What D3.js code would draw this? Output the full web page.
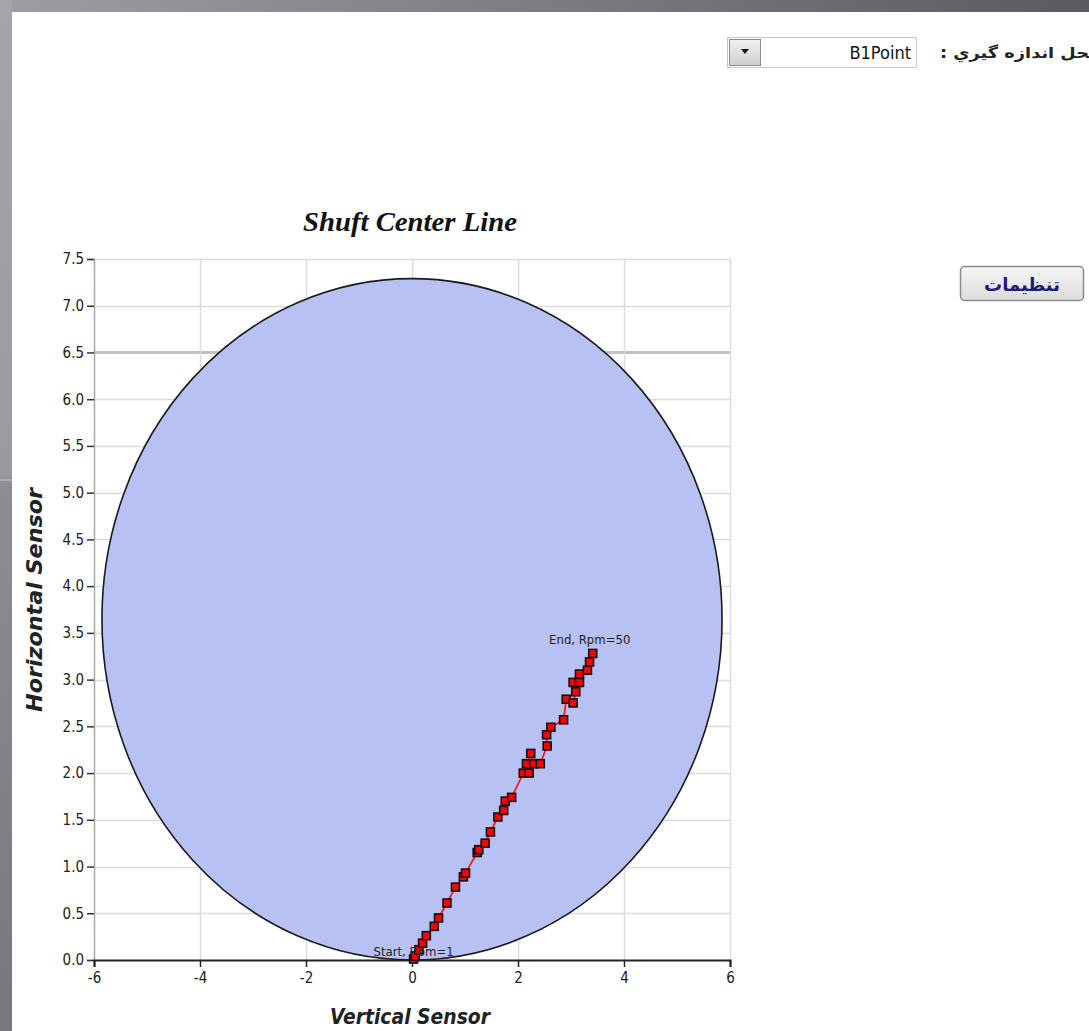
<!DOCTYPE html>
<html>
<head>
<meta charset="utf-8">
<script src="https://cdn.jsdelivr.net/npm/d3@7"></script>
<style>
  html, body { margin: 0; padding: 0; background: #fff; }
  svg { display: block; }
</style>
</head>
<body>
<svg id="page" width="1089" height="1031"></svg>
<script>
// Shaft centre line: probe readings from run-up (rpm 1) to rpm 50
const vertical = [0.03, 0.06, 0.13, 0.20, 0.27, 0.42, 0.50, 0.66, 0.82, 0.97, 1.01, 1.23, 1.26, 1.38, 1.48,
                  1.62, 1.73, 1.76, 1.88, 2.10, 2.21, 2.16, 2.24, 2.30, 2.42, 2.55, 2.54, 2.62, 2.86, 2.91,
                  3.04, 3.09, 3.04, 3.16, 3.16, 3.31, 3.35, 3.41];
const horizontal = [0.01, 0.04, 0.11, 0.18, 0.26, 0.36, 0.45, 0.61, 0.78, 0.89, 0.93, 1.15, 1.18, 1.25, 1.37,
                    1.53, 1.60, 1.70, 1.74, 2.00, 2.00, 2.10, 2.21, 2.10, 2.10, 2.29, 2.41, 2.49, 2.57, 2.79,
                    2.75, 2.87, 2.97, 2.97, 3.06, 3.10, 3.19, 3.28];
const rpmStart = 1, rpmEnd = 50;

// bearing clearance envelope (centre and half-axes, in sensor units)
const clearanceCenter = [0, 3.645];
const clearanceRadius = [5.85, 3.645];

const xTicks = [-6, -4, -2, 0, 2, 4, 6];
const yTicks = [0, 0.5, 1, 1.5, 2, 2.5, 3, 3.5, 4, 4.5, 5, 5.5, 6, 6.5, 7, 7.5];

const titleText = "Shuft Center Line";
const xLabel = "Vertical Sensor";
const yLabel = "Horizontal Sensor";
const pointLabel = "B1Point";
const pointCaption = "محل اندازه گيري :";
const settingsLabel = "تنظيمات";

const svg = d3.select("#page");
const W = 1089, H = 1031;
const narrow = "DejaVu Sans Condensed, Liberation Sans Narrow, Liberation Sans, sans-serif";

// ----- page frame -----
const defs = svg.append("defs");
const gTop = defs.append("linearGradient").attr("id", "gTop").attr("x1", 0).attr("x2", 1).attr("y1", 0).attr("y2", 0);
gTop.append("stop").attr("offset", 0).attr("stop-color", "#9d9da4");
gTop.append("stop").attr("offset", 0.5).attr("stop-color", "#7c7c82");
gTop.append("stop").attr("offset", 1).attr("stop-color", "#5a5a5f");
const gLeft = defs.append("linearGradient").attr("id", "gLeft").attr("x1", 0).attr("x2", 0).attr("y1", 0).attr("y2", 1);
gLeft.append("stop").attr("offset", 0).attr("stop-color", "#a4a4ab");
gLeft.append("stop").attr("offset", 0.46).attr("stop-color", "#9a9aa1");
gLeft.append("stop").attr("offset", 0.47).attr("stop-color", "#8d8d94");
gLeft.append("stop").attr("offset", 1).attr("stop-color", "#77777e");
const gBtn = defs.append("linearGradient").attr("id", "gBtn").attr("x1", 0).attr("x2", 0).attr("y1", 0).attr("y2", 1);
gBtn.append("stop").attr("offset", 0).attr("stop-color", "#f6f6f6");
gBtn.append("stop").attr("offset", 1).attr("stop-color", "#dcdcdc");
const gArrow = defs.append("linearGradient").attr("id", "gArrow").attr("x1", 0).attr("x2", 0).attr("y1", 0).attr("y2", 1);
gArrow.append("stop").attr("offset", 0).attr("stop-color", "#f0f0f0");
gArrow.append("stop").attr("offset", 1).attr("stop-color", "#cfcfcf");

svg.append("rect").attr("width", W).attr("height", H).attr("fill", "#fff");
svg.append("rect").attr("x", 0).attr("y", 0).attr("width", W).attr("height", 12).attr("fill", "url(#gTop)");
svg.append("rect").attr("x", 0).attr("y", 0).attr("width", 12).attr("height", H).attr("fill", "url(#gLeft)");
svg.append("line").attr("x1", 0).attr("x2", 12).attr("y1", 480).attr("y2", 480).attr("stroke", "#c4c4ca").attr("stroke-width", 1);

// ----- measuring point selector -----
const sel = svg.append("g");
sel.append("rect").attr("x", 727.5).attr("y", 37.5).attr("width", 189).attr("height", 30)
  .attr("fill", "#fff").attr("stroke", "#c8c8c8");
sel.append("rect").attr("x", 729.5).attr("y", 39.5).attr("width", 31).attr("height", 26)
  .attr("fill", "url(#gArrow)").attr("stroke", "#8c8c8c");
sel.append("path").attr("d", "M741,49 L749,49 L745,54 Z").attr("fill", "#111");
sel.append("text").attr("x", 911).attr("y", 59).attr("text-anchor", "end")
  .attr("font-family", narrow).attr("font-size", 18).attr("fill", "#111")
  .text(pointLabel);
sel.append("text").attr("x", 1100).attr("y", 58).attr("text-anchor", "start")
  .attr("direction", "rtl")
  .attr("font-family", "DejaVu Sans, sans-serif").attr("font-size", 15).attr("font-weight", "bold").attr("fill", "#222")
  .attr("textLength", 160).attr("lengthAdjust", "spacingAndGlyphs")
  .text(pointCaption);

// ----- settings button -----
const btn = svg.append("g");
btn.append("rect").attr("x", 960.5).attr("y", 266.5).attr("width", 123).attr("height", 34).attr("rx", 4)
  .attr("fill", "url(#gBtn)").attr("stroke", "#8a8a8a").attr("stroke-width", 1.5);
btn.append("text").attr("x", 1022).attr("y", 291).attr("text-anchor", "middle")
  .attr("font-family", "DejaVu Sans, sans-serif").attr("font-size", 18).attr("font-weight", "bold").attr("fill", "#1a1a7a")
  .text(settingsLabel);

// ----- chart -----
const plot = { left: 94, right: 730, top: 259, bottom: 960 };
const x = d3.scaleLinear().domain([-6, 6]).range([plot.left, plot.right]);
const y = d3.scaleLinear().domain([0, 7.5]).range([plot.bottom, plot.top]);

const chart = svg.append("g");

// grid
chart.append("g").selectAll("line").data(yTicks.filter(d => d > 0)).join("line")
  .attr("x1", plot.left).attr("x2", plot.right)
  .attr("y1", d => Math.round(y(d)) + 0.5).attr("y2", d => Math.round(y(d)) + 0.5)
  .attr("stroke", d => d === 6.5 ? "#c2c2c2" : "#dcdcdc")
  .attr("stroke-width", d => d === 6.5 ? 3 : 1.5);
chart.append("g").selectAll("line").data(xTicks.filter(d => d > -6)).join("line")
  .attr("x1", d => Math.round(x(d)) + 0.5).attr("x2", d => Math.round(x(d)) + 0.5)
  .attr("y1", plot.top).attr("y2", plot.bottom)
  .attr("stroke", "#dcdcdc").attr("stroke-width", 1.5);

// clearance envelope
chart.append("ellipse")
  .attr("cx", x(clearanceCenter[0])).attr("cy", y(clearanceCenter[1]))
  .attr("rx", x(clearanceRadius[0]) - x(0)).attr("ry", y(0) - y(clearanceRadius[1]))
  .attr("fill", "#b8c1f4").attr("stroke", "#1a1a1a").attr("stroke-width", 1.6);

// axes
const yAxis = d3.axisLeft(y).tickValues(yTicks).tickFormat(d => d.toFixed(1)).tickSize(7).tickPadding(3);
const gy = chart.append("g").attr("transform", `translate(${plot.left},0)`).call(yAxis);
gy.select(".domain").attr("stroke", "#a8a8a8").attr("stroke-width", 1.5);
gy.selectAll(".tick line").attr("stroke", "#333").attr("stroke-width", 1.5);
gy.selectAll(".tick text").attr("font-family", narrow)
  .attr("font-size", 15).attr("fill", "#222");

const xAxis = d3.axisBottom(x).tickValues(xTicks).tickFormat(d => String(d)).tickSize(7).tickPadding(5);
const gx = chart.append("g").attr("transform", `translate(0,${plot.bottom})`).call(xAxis);
gx.select(".domain").attr("stroke", "#222").attr("stroke-width", 2);
gx.selectAll(".tick line").attr("stroke", "#222").attr("stroke-width", 1.5);
gx.selectAll(".tick text").attr("font-family", narrow)
  .attr("font-size", 15).attr("fill", "#222");

// centre line trace
const pts = vertical.map((v, i) => [v, horizontal[i]]);
chart.append("path").datum(pts)
  .attr("d", d3.line().x(d => x(d[0])).y(d => y(d[1])))
  .attr("fill", "none").attr("stroke", "#ff1a1a").attr("stroke-width", 1.8);
chart.append("g").selectAll("rect").data(pts).join("rect")
  .attr("x", d => x(d[0]) - 4).attr("y", d => y(d[1]) - 4)
  .attr("width", 8).attr("height", 8)
  .attr("fill", "#f00").attr("stroke", "#111").attr("stroke-width", 1.6);

// start / end annotations
const first = pts[0], last = pts[pts.length - 1];
chart.append("text").attr("x", x(first[0])).attr("y", y(first[1]) - 3).attr("text-anchor", "middle")
  .attr("font-family", narrow).attr("font-size", 13).attr("fill", "#222")
  .text(`Start, Rpm=${rpmStart}`);
chart.append("text").attr("x", x(last[0]) - 3).attr("y", y(last[1]) - 9).attr("text-anchor", "middle")
  .attr("font-family", narrow).attr("font-size", 13).attr("fill", "#222")
  .text(`End, Rpm=${rpmEnd}`);

// titles
svg.append("text").attr("x", 410).attr("y", 231).attr("text-anchor", "middle")
  .attr("font-family", "Liberation Serif, Times New Roman, serif").attr("font-style", "italic").attr("font-weight", "bold")
  .attr("font-size", 27).attr("fill", "#111")
  .attr("textLength", 214).attr("lengthAdjust", "spacingAndGlyphs")
  .text(titleText);
svg.append("text").attr("x", 410).attr("y", 1024).attr("text-anchor", "middle")
  .attr("font-family", narrow).attr("font-style", "italic").attr("font-weight", "bold")
  .attr("font-size", 21).attr("fill", "#222")
  .attr("textLength", 160).attr("lengthAdjust", "spacingAndGlyphs")
  .text(xLabel);
svg.append("text").attr("transform", "translate(42,600) rotate(-90)").attr("text-anchor", "middle")
  .attr("font-family", narrow).attr("font-style", "italic").attr("font-weight", "bold")
  .attr("font-size", 22).attr("fill", "#222")
  .attr("textLength", 224).attr("lengthAdjust", "spacingAndGlyphs")
  .text(yLabel);
</script>
</body>
</html>
